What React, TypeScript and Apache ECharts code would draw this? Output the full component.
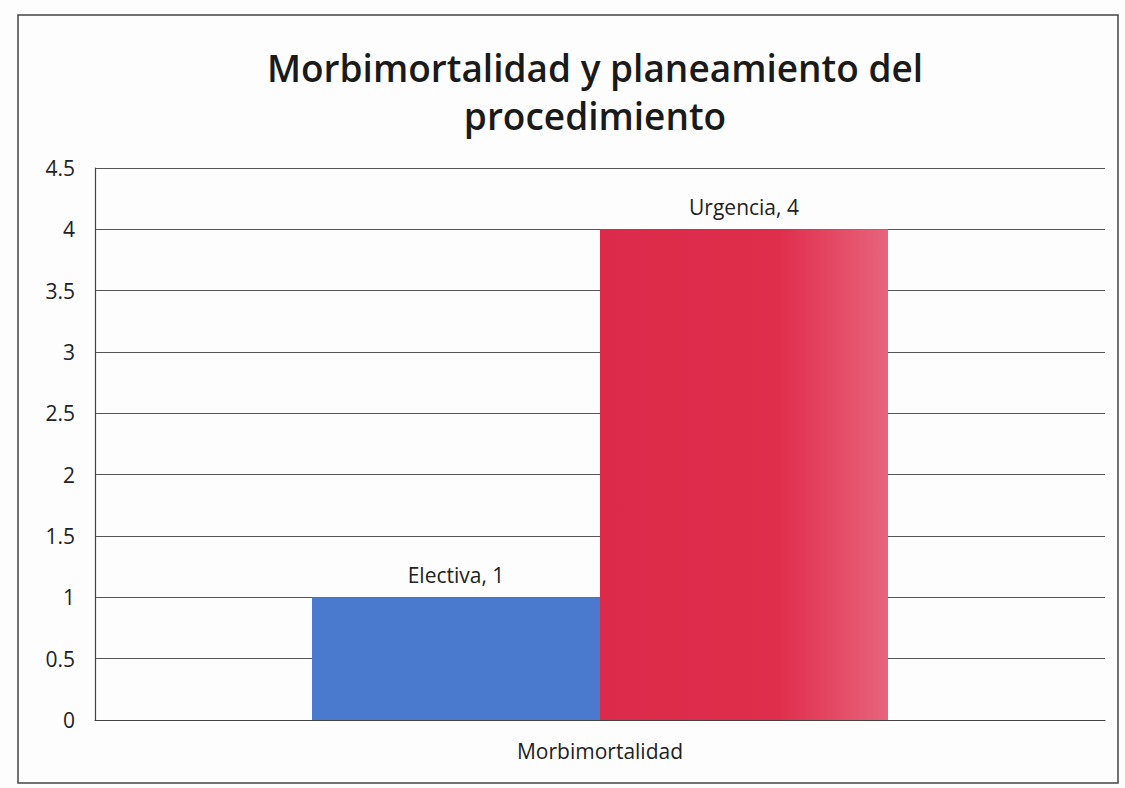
import React, { useEffect, useRef } from "react";
import * as echarts from "echarts";

const categories = ["Morbimortalidad"];
const seriesNames = ["Electiva", "Urgencia"];
const electivaValues = [1];
const urgenciaValues = [4];
const yTicks = [0, 0.5, 1, 1.5, 2, 2.5, 3, 3.5, 4, 4.5];
const titleText = "Morbimortalidad y planeamiento del\nprocedimiento";

export default function App() {
  const ref = useRef<HTMLDivElement>(null);
  useEffect(() => {
    if (!ref.current) return;
    const chart = echarts.init(ref.current, null, { renderer: "svg" });
    const font = "'Open Sans', 'Noto Sans', sans-serif";
    const labelCfg = {
      show: true,
      position: "top",
      distance: 12,
      formatter: "{a}, {c}",
      fontSize: 21,
      color: "#222",
      fontFamily: font,
    };
    chart.setOption({
      animation: false,
      backgroundColor: "#fdfdfd",
      title: {
        text: titleText,
        left: 590,
        textAlign: "center",
        top: 38,
        textStyle: {
          fontSize: 37,
          fontWeight: 600,
          color: "#1a1a1a",
          fontFamily: font,
          lineHeight: 48,
          align: "center",
        },
      },
      graphic: [
        {
          type: "rect",
          shape: { x: 18, y: 15, width: 1100, height: 768 },
          style: { fill: "none", stroke: "#444", lineWidth: 1.5 },
          silent: true,
        },
      ],
      grid: { left: 95, right: 20, top: 168, bottom: 68 },
      xAxis: {
        type: "category",
        data: categories,
        axisLine: { show: true, lineStyle: { color: "#444", width: 1.2 } },
        axisTick: { show: false },
        axisLabel: { fontSize: 21, color: "#222", fontFamily: font, margin: 20 },
      },
      yAxis: {
        type: "value",
        min: yTicks[0],
        max: yTicks[yTicks.length - 1],
        interval: 0.5,
        axisLine: { show: true, lineStyle: { color: "#444", width: 1.2 } },
        axisTick: { show: false },
        axisLabel: { fontSize: 21, color: "#222", fontFamily: font, margin: 20 },
        splitLine: { show: true, lineStyle: { color: "#555", width: 1.2 } },
      },
      series: [
        {
          name: seriesNames[0],
          type: "bar",
          data: electivaValues,
          barWidth: 288,
          barGap: "0%",
          itemStyle: { color: "#4a7acd" },
          label: labelCfg,
        },
        {
          name: seriesNames[1],
          type: "bar",
          data: urgenciaValues,
          barWidth: 288,
          barGap: "0%",
          itemStyle: {
            color: new echarts.graphic.LinearGradient(0, 0, 1, 0, [
              { offset: 0, color: "#dc2a4a" },
              { offset: 0.62, color: "#df2e4c" },
              { offset: 1, color: "#e8647c" },
            ]),
          },
          label: labelCfg,
        },
      ],
    });
    return () => chart.dispose();
  }, []);
  return (
    <div
      ref={ref}
      style={{ position: "fixed", left: 0, top: 0, width: 1125, height: 788 }}
    />
  );
}
